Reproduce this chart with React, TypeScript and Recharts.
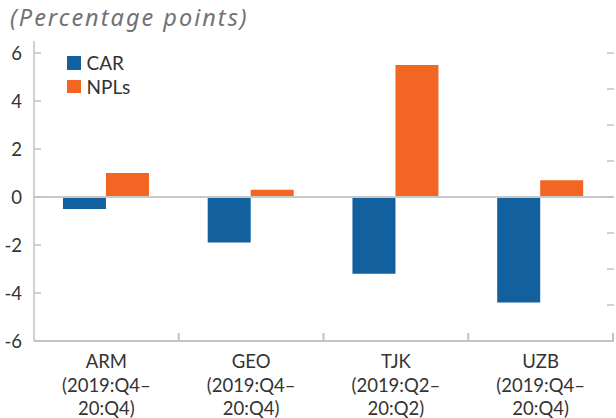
import { BarChart, Bar, XAxis, YAxis, ReferenceLine, Legend } from "recharts";

// categories + quarter ranges
const countries = ["ARM", "GEO", "TJK", "UZB"];
const periods = ["(2019:Q4–", "(2019:Q4–", "(2019:Q2–", "(2019:Q4–"];
const periodEnds = ["20:Q4)", "20:Q4)", "20:Q2)", "20:Q4)"];

// change in percentage points
const car = [-0.5, -1.9, -3.2, -4.4];
const npls = [1.0, 0.3, 5.5, 0.7];

const leftTicks = [-6, -4, -2, 0, 2, 4, 6];
const rightTicks = [-6, -4.5, -3, -1.5, 0, 1.5, 3, 4.5, 6];

const BLUE = "#13609E";
const ORANGE = "#F26522";
const AXIS = "#c2c2c2";
const TEXT = "#333333";
const FONT = "Lato, 'Noto Sans', sans-serif";
const BAND = (613 - 34) / countries.length;

const data = countries.map((c, i) => ({
  name: c,
  period: periods[i],
  periodEnd: periodEnds[i],
  CAR: car[i],
  NPLs: npls[i],
}));

function LeftTick({ x, y, payload }: any) {
  return (
    <g>
      <line x1={x} x2={x + 7} y1={y} y2={y} stroke={AXIS} strokeWidth={1.5} />
      <text x={x - 12} y={y} dy={6.5} textAnchor="end" fontSize={18.5} fill={TEXT} fontFamily={FONT}>
        {payload.value}
      </text>
    </g>
  );
}

function RightTick({ x, y }: any) {
  return <line x1={x - 6} x2={x + 1} y1={y} y2={y} stroke={AXIS} strokeWidth={1.5} />;
}

function CategoryTick({ x, y, index }: any) {
  const d = data[index];
  if (!d) return null;
  return (
    <g>
      <line x1={x + BAND / 2} x2={x + BAND / 2} y1={y - 8} y2={y} stroke={AXIS} strokeWidth={2} />
      <text textAnchor="middle" fontSize={18.5} fill={TEXT} fontFamily={FONT}>
        <tspan x={x} y={y + 27}>{d.name}</tspan>
        <tspan x={x} y={y + 50.5}>{d.period}</tspan>
        <tspan x={x} y={y + 74}>{d.periodEnd}</tspan>
      </text>
    </g>
  );
}

function LegendContent() {
  const items = [
    { label: "CAR", color: BLUE },
    { label: "NPLs", color: ORANGE },
  ];
  return (
    <div style={{ fontFamily: FONT, fontSize: 19, color: TEXT }}>
      {items.map((it) => (
        <div key={it.label} style={{ display: "flex", alignItems: "center", height: 23.5 }}>
          <span style={{ width: 13.5, height: 13.5, background: it.color, display: "inline-block", marginRight: 6 }} />
          <span>{it.label}</span>
        </div>
      ))}
    </div>
  );
}

export default function App() {
  return (
    <div style={{ position: "absolute", left: 0, top: 0, width: 616, height: 418, background: "#fff", overflow: "hidden" }}>
      <div
        style={{
          position: "absolute",
          left: 10,
          top: 1,
          fontFamily: "'Noto Sans', sans-serif",
          fontStyle: "italic",
          fontSize: 23.5,
          color: "#727272",
          letterSpacing: 2,
          whiteSpace: "nowrap",
        }}
      >
        (Percentage points)
      </div>
      <BarChart
        width={616}
        height={418}
        data={data}
        margin={{ top: 41, right: 0, bottom: 0, left: 0 }}
        barCategoryGap="20%"
        barGap={0}
      >
        <XAxis
          dataKey="name"
          height={77}
          axisLine={{ stroke: AXIS, strokeWidth: 2 }}
          tickLine={false}
          tickSize={0}
          tickMargin={0}
          tick={<CategoryTick />}
          interval={0}
        />
        <YAxis
          yAxisId="left"
          width={34}
          domain={[-6, 6.5]}
          ticks={leftTicks}
          allowDataOverflow
          axisLine={{ stroke: AXIS, strokeWidth: 1.5 }}
          tickLine={false}
          tickSize={0}
          tickMargin={0}
          tick={<LeftTick />}
          interval={0}
        />
        <YAxis
          yAxisId="right"
          orientation="right"
          width={3}
          domain={[-6, 6.5]}
          ticks={rightTicks}
          allowDataOverflow
          axisLine={false}
          tickLine={false}
          tickSize={0}
          tickMargin={0}
          tick={<RightTick />}
          interval={0}
        />
        <Legend
          content={<LegendContent />}
          layout="horizontal"
          verticalAlign="middle"
          align="center"
          wrapperStyle={{ position: "absolute", left: 67, top: 51, width: "auto" }}
        />
        <Bar yAxisId="left" dataKey="CAR" fill={BLUE} isAnimationActive={false} />
        <Bar yAxisId="left" dataKey="NPLs" fill={ORANGE} isAnimationActive={false} />
        <ReferenceLine yAxisId="left" y={0} stroke="#c8c8c8" strokeWidth={2} />
      </BarChart>
    </div>
  );
}
